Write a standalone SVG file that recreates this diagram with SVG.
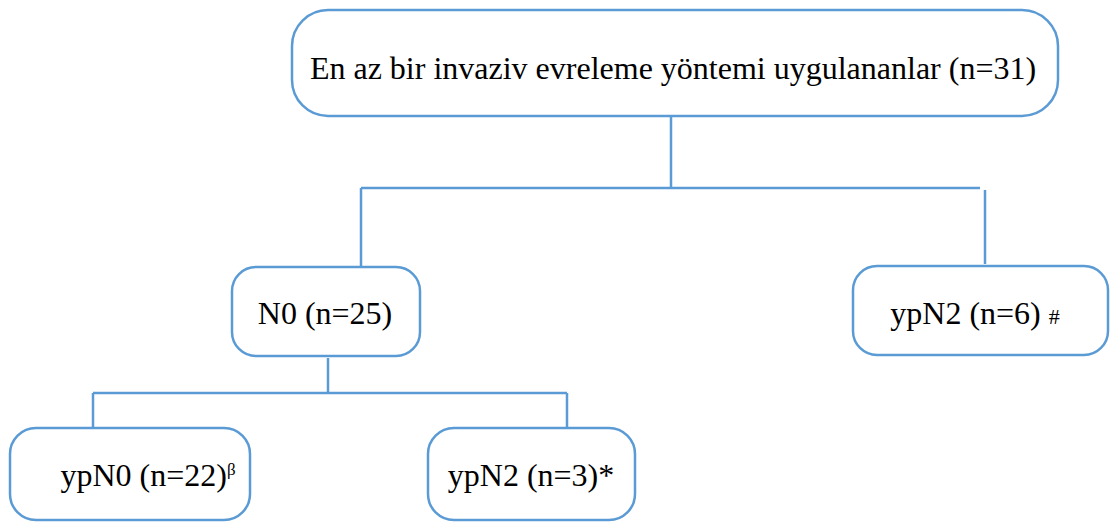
<svg xmlns="http://www.w3.org/2000/svg" width="1115" height="525" viewBox="0 0 1115 525">
<style>
.box{fill:#fff;stroke:#5b9bd5;stroke-width:2.5}
.ln{stroke:#5b9bd5;stroke-width:2.5;fill:none}
text{font-family:"Liberation Serif","Times New Roman",serif;font-size:32px;fill:#000;text-anchor:middle}
.sm{font-size:22px}
.sup{font-size:17px}
</style>
<rect width="1115" height="525" fill="#fff"/>
<g id="connectors">
<path class="ln" d="M671 116V188M361 188H980M361 188V267M985 190V264M328 358V393M93 393H567M93 393V428M567 393V428"/>
</g>
<g id="root"><rect class="box" x="292" y="10" width="766" height="106" rx="36"/><text x="673" y="79">En az bir invaziv evreleme yöntemi uygulananlar (n=31)</text></g>
<g id="n0"><rect class="box" x="232" y="267" width="188" height="89" rx="24"/><text x="325" y="324">N0 (n=25)</text></g>
<g id="ypn2a"><rect class="box" x="853" y="266" width="255" height="89" rx="24"/><text x="975" y="324">ypN2 (n=6) <tspan class="sm">#</tspan></text></g>
<g id="ypn0"><rect class="box" x="10" y="428" width="240" height="92" rx="26"/><text x="148" y="486">ypN0 (n=22)<tspan class="sup" dy="-11">β</tspan></text></g>
<g id="ypn2b"><rect class="box" x="428" y="428" width="207" height="92" rx="26"/><text x="531" y="486">ypN2 (n=3)*</text></g>
</svg>
